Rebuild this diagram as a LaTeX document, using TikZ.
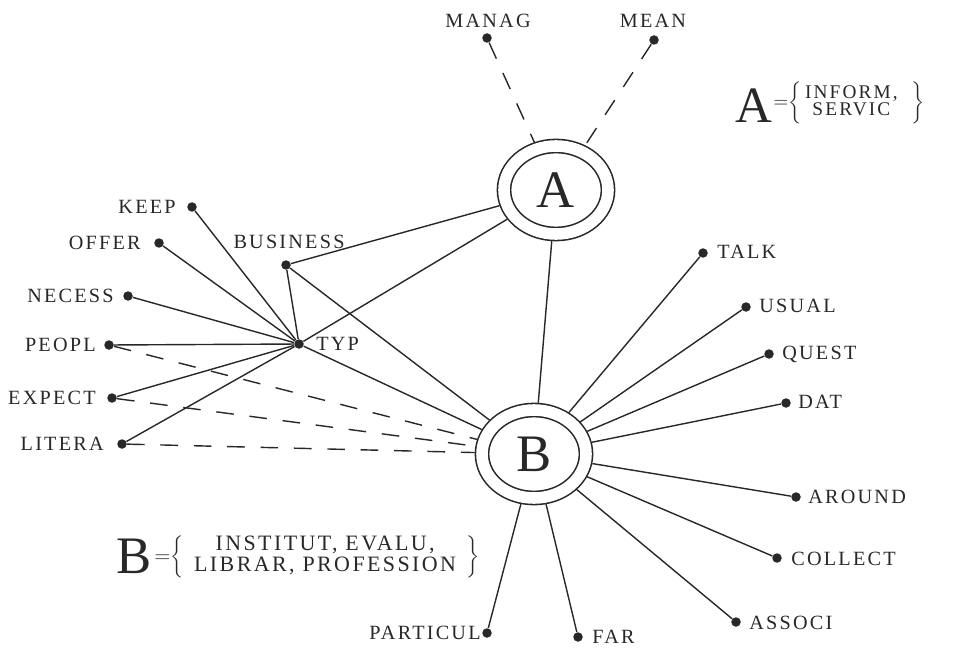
\documentclass[tikz,border=0pt]{standalone}
\usepackage{fontspec}
\setmainfont{Liberation Serif}
\newfontfamily\labfont[LetterSpace=11]{Liberation Serif}
\usetikzlibrary{shapes.geometric}
\definecolor{ink}{RGB}{40,40,40}
\tikzset{
  ln/.style={line width=0.8pt, draw=ink},
  dashln/.style={line width=0.8pt, draw=ink, dash pattern=on 10pt off 9pt},
  pkt/.style={circle, fill=ink, inner sep=0pt, minimum size=0.19cm},
  lab/.style={inner sep=0pt, text=ink, font=\labfont\fontsize{11.5}{13}\selectfont},
  gross/.style={inner sep=0pt, text=ink, font=\fontsize{29}{29}\selectfont},
  kreis/.style={ellipse, draw=ink, line width=0.9pt, double, double distance=6.6pt,
    minimum width=2.08cm, minimum height=1.76cm, inner sep=0pt, outer sep=4.2pt,
    text=ink, font=\fontsize{30}{30}\selectfont},
}
\begin{document}
\begin{tikzpicture}[x=0.02cm, y=-0.02cm]
	\useasboundingbox (0,0) rectangle (962,648);
	
	\node[kreis] (A) at (556,190) {A};
	\node[kreis] (B) at (534,454) {B};
	
	%Punkte links
	\node[pkt] (keep) at (192,207) {};
	\node[pkt] (offer) at (159,243) {};
	\node[pkt] (business) at (286,265) {};
	\node[pkt] (necess) at (128,296) {};
	\node[pkt] (peopl) at (109,345) {};
	\node[pkt] (typ) at (299,344) {};
	\node[pkt] (expect) at (112,398) {};
	\node[pkt] (litera) at (122,444) {};
	\node[lab, anchor=east] (keepL) at (176,207) {KEEP};
	\node[lab, anchor=east] (offerL) at (141,243) {OFFER};
	\node[lab] (businessL) at (289,242) {BUSINESS};
	\node[lab, anchor=east] (necessL) at (114,296) {NECESS};
	\node[lab, anchor=east] (peoplL) at (96,345) {PEOPL};
	\node[lab, anchor=west] (typL) at (316,344) {TYP};
	\node[lab, anchor=east] (expectL) at (96,398) {EXPECT};
	\node[lab, anchor=east] (literaL) at (104,444) {LITERA};
	
	%Punkte oben
	\node[pkt] (manag) at (487,38) {};
	\node[pkt] (mean) at (654,40) {};
	\node[lab] (managL) at (488,21) {MANAG};
	\node[lab] (meanL) at (653,21) {MEAN};
	
	%Punkte rechts und unten
	\node[pkt] (talk) at (703,253) {};
	\node[pkt] (usual) at (746,307) {};
	\node[pkt] (quest) at (769,354) {};
	\node[pkt] (dat) at (786,403) {};
	\node[pkt] (around) at (796,497) {};
	\node[pkt] (collect) at (777,558) {};
	\node[pkt] (associ) at (736,622) {};
	\node[pkt] (far) at (578,637) {};
	\node[pkt] (particul) at (487,633) {};
	\node[lab, anchor=west] (talkL) at (717,252) {TALK};
	\node[lab, anchor=west] (usualL) at (759,306) {USUAL};
	\node[lab, anchor=west] (questL) at (782,354) {QUEST};
	\node[lab, anchor=west] (datL) at (798,402) {DAT};
	\node[lab, anchor=west] (aroundL) at (808,497) {AROUND};
	\node[lab, anchor=west] (collectL) at (791,559) {COLLECT};
	\node[lab, anchor=west] (associL) at (749,623) {ASSOCI};
	\node[lab, anchor=west] (farL) at (592,637) {FAR};
	\node[lab, anchor=east] (particulL) at (481,633) {PARTICUL};
	
	%Mengen
	\node[gross] (letA) at (754,106) {A};
	\node[lab, anchor=west, font=\labfont\fontsize{11}{8.5}\selectfont] (mengeA) at (773,103) {${=}\bigg\{$\begin{tabular}{@{\hspace{2pt}}c@{\hspace{8pt}}}INFORM,\\SERVIC\end{tabular}$\bigg\}$};
	\node[gross, font=\fontsize{30}{30}\selectfont] (letB) at (134,556) {B};
	\node[lab, anchor=west, font=\labfont\fontsize{12.5}{12}\selectfont] (mengeB) at (154,557) {${=}\bigg\{$\begin{tabular}{c}INSTITUT, EVALU,\\LIBRAR, PROFESSION\end{tabular}$\bigg\}$};
	
	%Verbindungen zu TYP
	\draw[ln] (keep) -- (typ);
	\draw[ln] (offer) -- (typ);
	\draw[ln] (necess) -- (typ);
	\draw[ln] (peopl) -- (typ);
	\draw[ln] (expect) -- (typ);
	\draw[ln] (litera) -- (typ);
	\draw[ln] (business) -- (typ);
	
	\draw[ln] (business) -- (A);
	\draw[ln] (typ) -- (A);
	\draw[ln] (business) -- (B);
	\draw[ln] (typ) -- (B);
	\draw[ln] (A) -- (B);
	
	\draw[dashln] (manag) -- (A);
	\draw[dashln] (mean) -- (A);
	\draw[dashln] (peopl) -- (B);
	\draw[dashln] (expect) -- (B);
	\draw[dashln] (litera) -- (B);
	
	%Strahlen von B
	\draw[ln] (B) -- (talk);
	\draw[ln] (B) -- (usual);
	\draw[ln] (B) -- (quest);
	\draw[ln] (B) -- (dat);
	\draw[ln] (B) -- (around);
	\draw[ln] (B) -- (collect);
	\draw[ln] (B) -- (associ);
	\draw[ln] (B) -- (far);
	\draw[ln] (B) -- (particul);
	
\end{tikzpicture}
\end{document}
